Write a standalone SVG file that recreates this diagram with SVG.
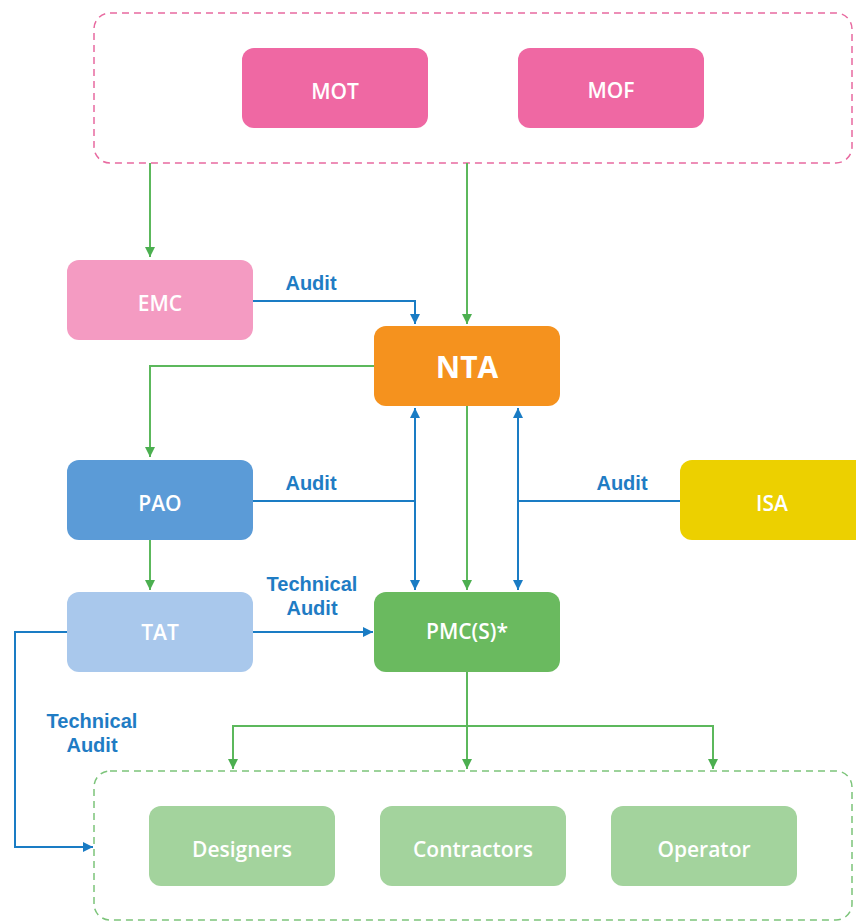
<svg xmlns="http://www.w3.org/2000/svg" width="856" height="922" viewBox="0 0 856 922">
<style>
.node text{font-family:"Open Sans","Liberation Sans",sans-serif;font-weight:600;font-size:21px;fill:#fff;text-anchor:middle;dominant-baseline:central}
.lbl{font-family:"Liberation Sans","Open Sans",sans-serif;font-weight:700;font-size:20px;fill:#1f7cc4;text-anchor:middle}
.g{stroke:#5cb85c;stroke-width:2;fill:none}
.b{stroke:#1a7cc4;stroke-width:2;fill:none}
</style>
<defs>
<marker id="ag" viewBox="0 0 10 10" refX="10" refY="5" markerWidth="5" markerHeight="5" orient="auto-start-reverse"><path d="M0,0L10,5L0,10z" fill="#4caf50"/></marker>
<marker id="ab" viewBox="0 0 10 10" refX="10" refY="5" markerWidth="5" markerHeight="5" orient="auto-start-reverse"><path d="M0,0L10,5L0,10z" fill="#1a7cc4"/></marker>
</defs>
<rect width="856" height="922" fill="#fff"/>
<g id="top-group"><rect x="94" y="13" width="758" height="150" rx="16" fill="none" stroke="#e86aa0" stroke-width="1.5" stroke-dasharray="7,5"/></g>
<g id="bottom-group"><rect x="94" y="771" width="758" height="149" rx="16" fill="none" stroke="#7cc47a" stroke-width="1.5" stroke-dasharray="7,5"/></g>
<g id="connectors">
<path class="g" d="M150,163V257" marker-end="url(#ag)"/>
<path class="g" d="M467,163V324" marker-end="url(#ag)"/>
<path class="b" d="M253,301H415V324" marker-end="url(#ab)"/>
<path class="g" d="M374,366H150V457" marker-end="url(#ag)"/>
<path class="b" d="M415,408V590" marker-start="url(#ab)" marker-end="url(#ab)"/>
<path class="g" d="M467,406V590" marker-end="url(#ag)"/>
<path class="b" d="M518,408V590" marker-start="url(#ab)" marker-end="url(#ab)"/>
<path class="b" d="M253,501H415"/>
<path class="b" d="M680,501H518"/>
<path class="g" d="M150,540V590" marker-end="url(#ag)"/>
<path class="b" d="M253,632H373" marker-end="url(#ab)"/>
<path class="g" d="M467,672V769" marker-end="url(#ag)"/>
<path class="g" d="M233,769V726H713V769" marker-start="url(#ag)" marker-end="url(#ag)"/>
<path class="b" d="M67,632H15V847H93" marker-end="url(#ab)"/>
<text class="lbl" x="311" y="290">Audit</text>
<text class="lbl" x="311" y="490">Audit</text>
<text class="lbl" x="622" y="490">Audit</text>
<text class="lbl" x="312" y="591">Technical<tspan x="312" dy="24">Audit</tspan></text>
<text class="lbl" x="92" y="728">Technical<tspan x="92" dy="24">Audit</tspan></text>
</g>
<g id="MOT" class="node"><rect x="242" y="48" width="186" height="80" rx="12" fill="#ef68a3"/><text x="335" y="91">MOT</text></g>
<g id="MOF" class="node"><rect x="518" y="48" width="186" height="80" rx="12" fill="#ef68a3"/><text x="611" y="90">MOF</text></g>
<g id="EMC" class="node"><rect x="67" y="260" width="186" height="80" rx="12" fill="#f49bc2"/><text x="160" y="303">EMC</text></g>
<g id="NTA" class="node"><rect x="374" y="326" width="186" height="80" rx="12" fill="#f5921e"/><text x="467" y="366" style="font-size:30px;font-weight:700">NTA</text></g>
<g id="PAO" class="node"><rect x="67" y="460" width="186" height="80" rx="12" fill="#5b9bd7"/><text x="160" y="503">PAO</text></g>
<g id="ISA" class="node"><rect x="680" y="460" width="190" height="80" rx="12" fill="#ecd000"/><text x="772" y="503">ISA</text></g>
<g id="TAT" class="node"><rect x="67" y="592" width="186" height="80" rx="12" fill="#a9c8ec"/><text x="160" y="632">TAT</text></g>
<g id="PMC" class="node"><rect x="374" y="592" width="186" height="80" rx="12" fill="#6aba5f"/><text x="467" y="631">PMC(S)*</text></g>
<g id="Designers" class="node"><rect x="149" y="806" width="186" height="80" rx="12" fill="#a3d39d"/><text x="242" y="849">Designers</text></g>
<g id="Contractors" class="node"><rect x="380" y="806" width="186" height="80" rx="12" fill="#a3d39d"/><text x="473" y="849">Contractors</text></g>
<g id="Operator" class="node"><rect x="611" y="806" width="186" height="80" rx="12" fill="#a3d39d"/><text x="704" y="849">Operator</text></g>
</svg>
